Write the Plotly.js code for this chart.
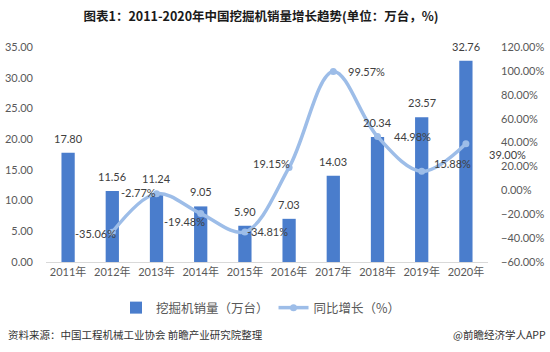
<!DOCTYPE html>
<html>
<head>
<meta charset="utf-8">
<script src="https://cdn.plot.ly/plotly-3.0.1.min.js"></script>
<style>html,body{margin:0;padding:0;background:#fff;}#chart{width:550px;height:352px;}</style>
</head>
<body>
<div id="chart"></div>
<script>
// ---- data ----
const years = ['2011年','2012年','2013年','2014年','2015年','2016年','2017年','2018年','2019年','2020年'];
const sales = [17.80, 11.56, 11.24, 9.05, 5.90, 7.03, 14.03, 20.34, 23.57, 32.76];
const growth = [null, -35.06, -2.77, -19.48, -34.81, 19.15, 99.57, 44.98, 15.88, 39.00];
const salesName = '挖掘机销量（万台）';
const growthName = '同比增长（%）';
const titleText = '图表1：2011-2020年中国挖掘机销量增长趋势(单位：万台，%)';
const sourceText = '资料来源：中国工程机械工业协会 前瞻产业研究院整理';
const brandText = '@前瞻经济学人APP';

// ---- styling ----
const W = 550, H = 352;
const M = {l: 46, r: 62, t: 47, b: 90, autoexpand: false};
const PW = W - M.l - M.r, PH = H - M.t - M.b;
const px2x = p => (p - M.l) / PW;
const px2y = p => 1 - (p - M.t) / PH;
const numFont = 'Lato, "Noto Sans CJK SC", sans-serif';
const cjkFont = '"Noto Sans CJK SC", sans-serif';
const barColor = '#4a7dcc';
const lineColor = '#9dbde8';
const textColor = '#404040';
// label offsets (px) for growth labels: [dx, dy(down)]
const growthLabelOffsets = [null, [-17,1], [-18,-1], [-16,8], [23,0], [-18,-4], [33,0], [35,0], [31,-8], [42,11]];

const traces = [
  {type: 'bar', x: years, y: sales, name: salesName, marker: {color: barColor},
   hoverinfo: 'skip', yaxis: 'y'},
  {type: 'scatter', mode: 'lines+markers', x: years, y: growth, name: growthName, yaxis: 'y2',
   line: {color: lineColor, width: 3.5, shape: 'spline', smoothing: 1},
   marker: {color: lineColor, size: 7}, connectgaps: false, hoverinfo: 'skip'}
];

const annotations = [];
sales.forEach((v, i) => {
  annotations.push({x: years[i], y: v, xref: 'x', yref: 'y', text: v.toFixed(2),
    showarrow: false, yanchor: 'bottom', yshift: 6,
    font: {family: numFont, size: 11, color: textColor}});
});
growth.forEach((v, i) => {
  if (v === null) return;
  const o = growthLabelOffsets[i];
  annotations.push({x: years[i], y: v, xref: 'x', yref: 'y2', text: v.toFixed(2) + '%',
    showarrow: false, xanchor: 'center', yanchor: 'middle', xshift: o[0], yshift: -o[1],
    font: {family: numFont, size: 11, color: textColor}});
});
annotations.push({xref: 'paper', yref: 'paper', x: px2x(6), y: px2y(334), xanchor: 'left', yanchor: 'middle',
  text: sourceText, showarrow: false, font: {family: cjkFont, size: 10.5, color: '#333333'}});
annotations.push({xref: 'paper', yref: 'paper', x: px2x(548), y: px2y(334), xanchor: 'right', yanchor: 'middle',
  text: brandText, showarrow: false, font: {family: cjkFont, size: 10.5, color: '#333333'}});

const layout = {
  width: W, height: H, margin: M,
  paper_bgcolor: '#ffffff', plot_bgcolor: '#ffffff',
  showlegend: true,
  title: {text: titleText, x: 261 / W, xanchor: 'center', y: 1 - 17 / H, yanchor: 'middle',
    font: {family: cjkFont, size: 12.5, color: '#1a1a1a', weight: 'bold'}},
  bargap: 0.7,
  xaxis: {type: 'category', range: [-0.5, years.length - 0.5], showgrid: false, zeroline: false, showline: true,
    linecolor: '#d9d9d9', linewidth: 1,
    ticks: '', tickangle: 0, automargin: false, tickfont: {family: numFont, size: 11, color: '#595959'}, fixedrange: true},
  yaxis: {range: [0, 35], dtick: 5, tickformat: '.2f', showgrid: false, zeroline: false, showline: false, automargin: false,
    ticks: '', ticklabelstandoff: 12, tickfont: {family: numFont, size: 11, color: '#595959'}, fixedrange: true},
  yaxis2: {range: [-60, 120], dtick: 20, tickformat: '.2f', ticksuffix: '%', overlaying: 'y', side: 'right', automargin: false,
    showgrid: false, zeroline: false, showline: false, ticks: '', ticklabelstandoff: 12,
    tickfont: {family: numFont, size: 11, color: '#595959'}, fixedrange: true},
  legend: {orientation: 'h', x: px2x(261), xanchor: 'center', y: px2y(308), yanchor: 'middle',
    font: {family: cjkFont, size: 12.5, color: '#595959'}, itemwidth: 30, bgcolor: 'rgba(0,0,0,0)'},
  annotations: annotations
};

Plotly.newPlot('chart', traces, layout, {displayModeBar: false, staticPlot: true});
</script>
</body>
</html>
